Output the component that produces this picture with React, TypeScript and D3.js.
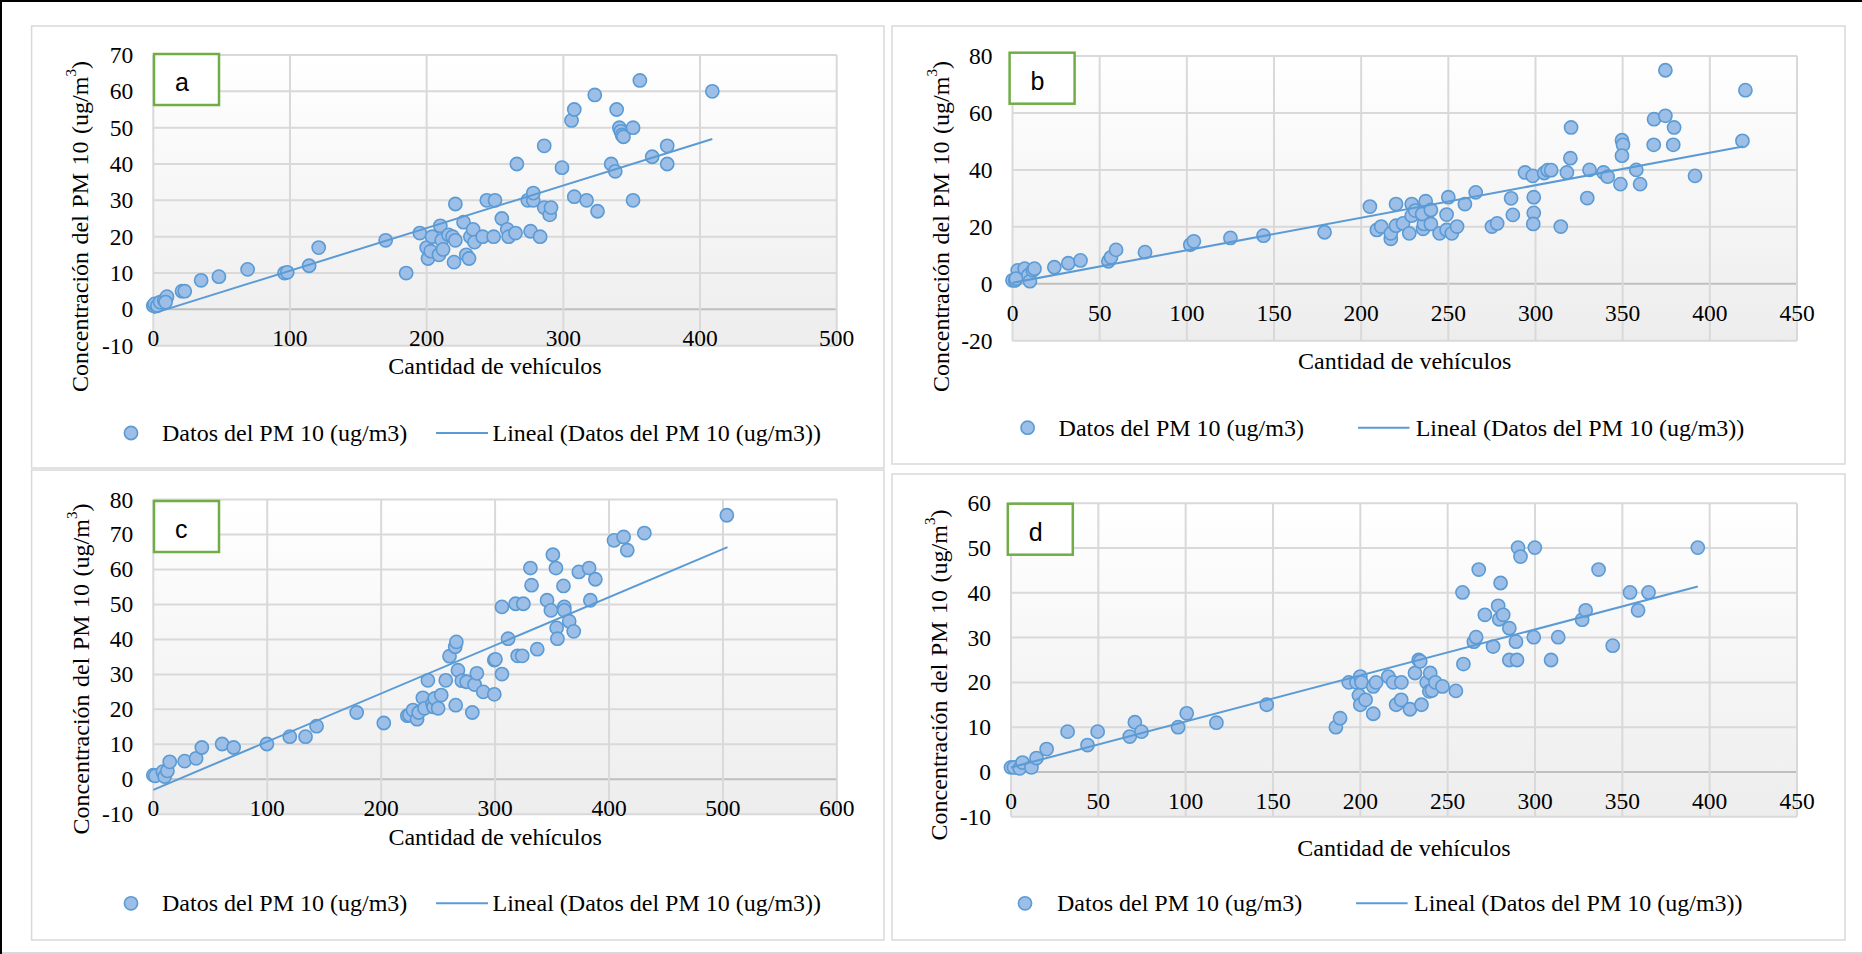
import React from "react";
import * as d3 from "d3";

// ---------- DATA ----------
const aX = [0,1,3,5,8,10,9,21,23,35,48,69,96,98,114,121,170,185,195,200,201,204,203,210,211,209,212,216,219,221,220,221,227,229,231,232,234,235,241,244,250,249,255,259,260,265,266,274,278,278,276,283,286,286,290,291,299,306,308,308,317,323,325,335,338,339,341,342,343,344,351,351,356,365,376,376,409];
const aY = [1,1.5,1,2,2.5,3.5,2,5,5,8,9,11,10,10.2,12,17,19,10,21,17,14,20,16,23,19,15,16.5,20.5,20,19,13,29,24,15,14,20,22,18.5,20,30,30,20,25,22,20,21,40,30,30,32,21.5,20,45,28,26,28,39,52,55,31,30,59,27,40,38,55,50,49,48,47.5,50,30,63,42,45,40,60];

const bX = [0,1.5,3,7,9,10,11.7,12.6,2,24,32,39,55,56.5,59.4,76,102,104,125,144,179,205,209,211.5,217,217,220,220,224,227.6,229,229,231,235.5,236,235,237,240,240,245,249,249,250,252,255,259.5,265.7,275,278,286,287,294,298.4,299,299,298.7,305,307,309,314.5,318,320,320.4,329.7,331,339,341.4,348.7,349.6,350.2,349.6,357.8,360,368,367.8,374.5,374.5,379,379.5,391.5,418.7,420.4];
const bY = [1.2,1.2,4.7,5.3,2.9,0.9,4.7,5.3,1.8,5.8,7.2,8.2,7.9,9.3,11.9,11.1,13.7,14.9,16.1,16.9,18.1,27.1,18.9,20.1,15.8,17.7,28,20.4,21.2,17.7,28,23.9,25.7,19.3,21,24.5,29,25.9,21,17.7,24.3,18.9,30.4,17.7,20.1,28,32.1,20.1,21.2,30,24.2,39.1,37.9,30.4,24.9,21,38.9,39.9,39.9,20.1,39.1,44.1,54.9,30.1,40,39.1,37.6,35,50.4,48.8,45,40,35,57.8,48.8,59,75,48.8,54.9,37.9,50.2,68];

const cX = [0,1.7,8.4,10,12.4,14.4,27.5,37.6,42.6,60.4,70.5,99.7,119.8,133.6,143.3,178.5,202.3,223,224.8,228,231.5,233,236.6,238,241,245,246,247,250,252.7,256.7,260,265,266,265.4,267.4,270.8,275,280,282,284,289.6,299.3,299.3,300.3,306,306,311.4,318,324.8,319.8,323.8,331,332,337,345.6,349,350.7,353.4,354,354.7,360,360.7,360.7,365,369,373.5,382.5,383.6,388,404.4,412.8,416,431,503.4];
const cY = [1.2,1,2.2,0.8,2.4,5,5.2,6,9.1,10.1,9.1,10.1,12.2,12.2,15.2,19.1,16.1,18.2,18.4,19.8,17.2,19.1,23.3,20.3,28.3,21.7,20.7,23.1,20.3,24.1,28.3,35.2,37.9,39.3,21.2,31.2,28.2,27.9,19.1,27.1,30.3,25,24.3,34.1,34.3,30.1,49.3,40.2,50.2,50.2,35.3,35.3,60.4,55.5,37.2,51.2,48.3,64.2,60.4,43.3,40.2,55.3,49.3,48.3,45.2,42.3,59.3,60.4,51.2,57.2,68.3,69.3,65.5,70.4,75.5];

const dX = [0,1.7,5,6.6,11.7,14.6,20.4,32.4,43.8,49.6,68,70.9,74.7,95.7,100.6,117.6,146.4,186,188.4,193.4,197.8,200,200.7,199.2,200,203,207.4,209,207.4,216,218.8,223.5,220.5,223.4,228.4,231.3,233.4,234.3,235,238,240,239.5,241,243,247,254.7,258.5,259,265,266.3,267.8,271.3,276,278.9,279.5,281.8,280.3,285.3,285.3,289.7,289.1,290.3,291.7,299.3,299.9,309.2,313.3,327,329,336.4,344.5,354.4,359,365,393.2];
const dY = [1,1,0.8,2.1,1,3.1,5.1,9,6,9,7.9,11.1,9,10,13.1,11,15,10,12,20,20,21.3,20,17.1,15,16.1,19.1,20,13,21.3,20,20,15,16.1,14,22.1,25,24.7,15,20,22.1,18,18.2,20,19.1,18.1,40.1,24.1,29.1,30.1,45.2,35.1,28,37.1,34.1,35.1,42.2,32.1,25,25,29.1,50.1,48.1,30.1,50.1,25,30.1,34,36.1,45.2,28.2,40.1,36.1,40.1,50.1];

// trendline end points [x, y]
const trendA = [[0, -1.1], [409, 46.9]];
const trendB = [[0, 0.35], [419, 48.2]];
const trendC = [[0, -3.0], [504, 66.4]];
const trendD = [[0, 1.0], [393.2, 41.4]];

const xTicksA = [0, 100, 200, 300, 400, 500];
const yTicksA = [-10, 0, 10, 20, 30, 40, 50, 60, 70];
const xTicksB = [0, 50, 100, 150, 200, 250, 300, 350, 400, 450];
const yTicksB = [-20, 0, 20, 40, 60, 80];
const xTicksC = [0, 100, 200, 300, 400, 500, 600];
const yTicksC = [-10, 0, 10, 20, 30, 40, 50, 60, 70, 80];
const xTicksD = [0, 50, 100, 150, 200, 250, 300, 350, 400, 450];
const yTicksD = [-10, 0, 10, 20, 30, 40, 50, 60];

const panelLetters = ["a", "b", "c", "d"];
const xTitle = "Cantidad de vehículos";
const yTitleMain = "Concentración del PM 10 (ug/m";
const legendSeries = "Datos del PM 10 (ug/m3)";
const legendTrend = "Lineal (Datos del PM 10 (ug/m3))";

// ---------- LAYOUT ----------
const SERIF = "'Liberation Serif', 'Times New Roman', serif";
const SANS = "'Liberation Sans', Arial, sans-serif";
const GRID = "#D9D9D9";
const BLUE = "#5B9BD5";
const FILL = "#9DBEE6";
const GREEN = "#70AD47";

type PanelDef = {
  letter: string;
  xs: number[]; ys: number[]; trend: number[][];
  xTicks: number[]; yTicks: number[];
  frame: [number, number, number, number];
  plot: [number, number, number, number]; // left, top, right, bottom
  box: [number, number];
  yTitle: [number, number];
  xTitleY: number;
  legendY: number;
  legend: [number, number, number, number, number]; // marker, text1, lineStart, lineEnd, text2
};

const panels: PanelDef[] = [
  {
    letter: panelLetters[0], xs: aX, ys: aY, trend: trendA, xTicks: xTicksA, yTicks: yTicksA,
    frame: [31.6, 26, 884, 468], plot: [153.3, 55, 836.7, 345.7], box: [154, 54],
    yTitle: [80, 226.5], xTitleY: 365.7, legendY: 433, legend: [131, 162, 436, 488, 492.5],
  },
  {
    letter: panelLetters[1], xs: bX, ys: bY, trend: trendB, xTicks: xTicksB, yTicks: yTicksB,
    frame: [892, 26, 1845, 464], plot: [1012.5, 56, 1797, 340.7], box: [1009.6, 52.7],
    yTitle: [941, 226.5], xTitleY: 360.7, legendY: 427.7, legend: [1027.6, 1058.6, 1358, 1409.5, 1415.7],
  },
  {
    letter: panelLetters[2], xs: cX, ys: cY, trend: trendC, xTicks: xTicksC, yTicks: yTicksC,
    frame: [31.6, 470, 884, 940], plot: [153.3, 499.5, 836.9, 814.3], box: [154, 501],
    yTitle: [80.5, 669], xTitleY: 836.7, legendY: 903.3, legend: [131, 162, 436, 488, 492.5],
  },
  {
    letter: panelLetters[3], xs: dX, ys: dY, trend: trendD, xTicks: xTicksD, yTicks: yTicksD,
    frame: [892, 474, 1845, 940], plot: [1011, 503.3, 1797, 816.7], box: [1007.8, 503.7],
    yTitle: [938.5, 675], xTitleY: 847.7, legendY: 903.3, legend: [1025, 1057, 1356, 1407.6, 1414],
  },
];

function Panel({ p }: { p: PanelDef }) {
  const [l, t, r, b] = p.plot;
  const xMin = d3.min(p.xTicks)!, xMax = d3.max(p.xTicks)!;
  const yMin = d3.min(p.yTicks)!, yMax = d3.max(p.yTicks)!;
  const x = d3.scaleLinear().domain([xMin, xMax]).range([l, r]);
  const y = d3.scaleLinear().domain([yMin, yMax]).range([b, t]);
  const line = d3.line<number[]>().x((d) => x(d[0])).y((d) => y(d[1]));
  const [fx0, fy0, fx1, fy1] = p.frame;
  const [m, t1, ls, le, t2] = p.legend;
  return (
    <g>
      <rect x={fx0} y={fy0} width={fx1 - fx0} height={fy1 - fy0} fill="#fff" stroke={GRID} strokeWidth={1.5} />
      <rect x={l} y={t} width={r - l} height={b - t} fill="url(#plotGrad)" />
      {p.yTicks.map((v) => (
        <line key={"gy" + v} x1={l} x2={r} y1={y(v)} y2={y(v)} stroke={v === 0 ? "#BFBFBF" : GRID} strokeWidth={2} />
      ))}
      {p.xTicks.map((v) => (
        <line key={"gx" + v} x1={x(v)} x2={x(v)} y1={t} y2={b} stroke={GRID} strokeWidth={2} />
      ))}
      {p.yTicks.map((v) => (
        <text key={"ty" + v} x={l - 20} y={y(v)} textAnchor="end" dominantBaseline="central"
          fontFamily={SERIF} fontSize={23.5} fill="#000">{v}</text>
      ))}
      {p.xTicks.map((v) => (
        <text key={"tx" + v} x={x(v)} y={y(0) + 29} textAnchor="middle" dominantBaseline="central"
          fontFamily={SERIF} fontSize={23.5} fill="#000">{v}</text>
      ))}
      {p.xs.map((xv, i) => (
        <circle key={"pt" + i} cx={x(xv)} cy={y(p.ys[i])} r={6.6} fill={FILL} stroke={BLUE} strokeWidth={1.6} />
      ))}
      <path d={line(p.trend) || ""} fill="none" stroke={BLUE} strokeWidth={2} />
      <rect x={p.box[0]} y={p.box[1]} width={65} height={51} fill="#fff" stroke={GREEN} strokeWidth={2.5} />
      <text x={p.box[0] + 21} y={p.box[1] + 37} fontFamily={SANS} fontSize={25} fill="#000">{p.letter}</text>
      <text x={(l + r) / 2} y={p.xTitleY} textAnchor="middle" dominantBaseline="central"
        fontFamily={SERIF} fontSize={24} fill="#000">{xTitle}</text>
      <text transform={`rotate(-90, ${p.yTitle[0]}, ${p.yTitle[1]})`} x={p.yTitle[0]} y={p.yTitle[1]}
        textAnchor="middle" dominantBaseline="central" fontFamily={SERIF} fontSize={24} fill="#000"
        wordSpacing={1.5}>
        {yTitleMain}
        <tspan fontSize={15} dy={-9}>3</tspan>
        <tspan dy={9}>)</tspan>
      </text>
      <circle cx={m} cy={p.legendY} r={6.6} fill={FILL} stroke={BLUE} strokeWidth={1.6} />
      <text x={t1} y={p.legendY} dominantBaseline="central" fontFamily={SERIF} fontSize={24} fill="#000">{legendSeries}</text>
      <line x1={ls} x2={le} y1={p.legendY} y2={p.legendY} stroke={BLUE} strokeWidth={2} />
      <text x={t2} y={p.legendY} dominantBaseline="central" fontFamily={SERIF} fontSize={24} fill="#000">{legendTrend}</text>
    </g>
  );
}

export default function App() {
  return (
    <svg width={1862} height={954} style={{ position: "absolute", left: 0, top: 0, background: "#fff" }}>
      <defs>
        <linearGradient id="plotGrad" x1="0" y1="0" x2="0" y2="1">
          <stop offset="0" stopColor="#FFFFFF" />
          <stop offset="1" stopColor="#EDEDED" />
        </linearGradient>
      </defs>
      <rect x={0} y={0} width={1862} height={954} fill="#fff" />
      {panels.map((p) => (
        <Panel key={p.letter} p={p} />
      ))}
      <line x1={0} x2={1862} y1={953} y2={953} stroke={GRID} strokeWidth={2} />
      <line x1={0} x2={1862} y1={1} y2={1} stroke="#000" strokeWidth={2} />
      <line x1={1} x2={1} y1={0} y2={954} stroke="#000" strokeWidth={2} />
    </svg>
  );
}
